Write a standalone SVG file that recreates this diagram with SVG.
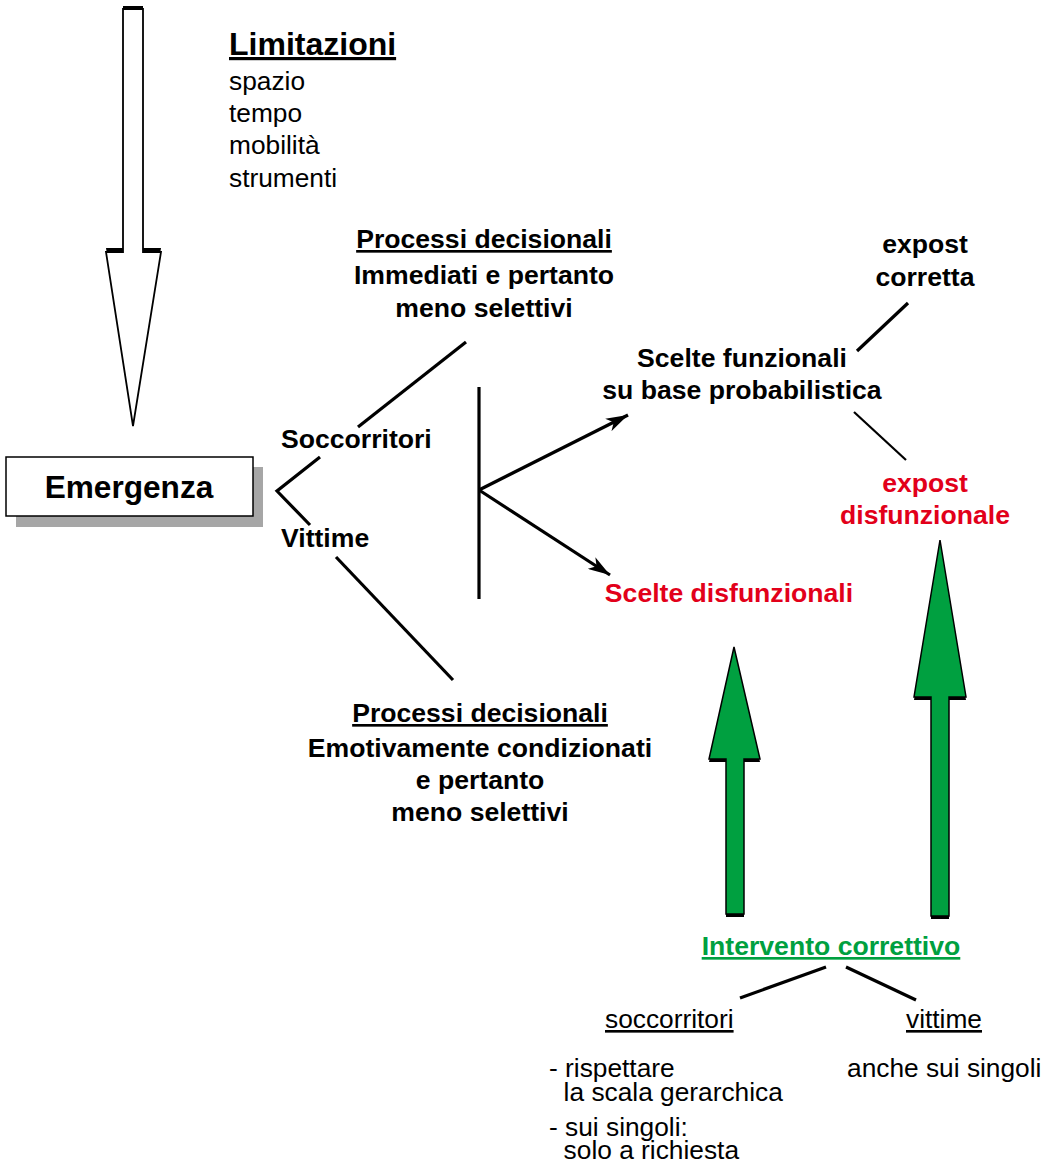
<svg xmlns="http://www.w3.org/2000/svg" width="1060" height="1164" viewBox="0 0 1060 1164">
<defs>
<style>
text{font-family:"Liberation Sans",Arial,sans-serif;font-size:26.3px;fill:#000}
.b{font-weight:bold;font-size:26.6px}
.c{text-anchor:middle}
.u{text-decoration:underline}
.red{fill:#e2001a}
.grn{fill:#00a040}
.ln{stroke:#000;stroke-width:3.2;fill:none;stroke-linecap:butt}
.thin{stroke:#000;stroke-width:2.2;fill:none}
.ga{fill:#00a040;stroke:#000;stroke-width:1.5;stroke-linejoin:miter}
.sh{fill:#000}
</style>
<marker id="ah" viewBox="0 0 22 14" refX="22" refY="7" markerWidth="22" markerHeight="14" markerUnits="userSpaceOnUse" orient="auto">
<path d="M0,0 L22,7 L0,14 L6,7 Z" fill="#000"/>
</marker>
</defs>
<rect width="1060" height="1164" fill="#fff"/>

<g id="arrow-limitazioni">
<polygon class="sh" points="123,6 143,6 143,248 161,248 133,424 106,248 123,248"/>
<polygon points="123,9 143,9 143,252 161,252 133,426 106,252 123,252" fill="#fff" stroke="#000" stroke-width="1.8"/>
</g>

<g id="limitazioni">
<text class="b u" x="229" y="55" style="font-size:32px">Limitazioni</text>
<text x="229" y="90">spazio</text>
<text x="229" y="122">tempo</text>
<text x="229" y="154">mobilità</text>
<text x="229" y="187">strumenti</text>
</g>

<g id="emergenza">
<rect x="16" y="467" width="247" height="60" fill="#a6a6a6"/>
<rect x="6" y="457" width="247" height="59" fill="#fff" stroke="#000" stroke-width="1.5"/>
<text class="b c" x="129" y="498" style="font-size:31.6px">Emergenza</text>
</g>

<g id="connectors">
<polyline class="ln" points="320,457 277,491 310,525"/>
<line class="ln" x1="358" y1="427" x2="466" y2="342"/>
<line class="ln" x1="336" y1="557" x2="453" y2="680"/>
<line class="ln" x1="479" y1="387" x2="479" y2="599"/>
<line class="ln" x1="479" y1="490" x2="628" y2="415" marker-end="url(#ah)"/>
<line class="ln" x1="479" y1="490" x2="610" y2="575" marker-end="url(#ah)"/>
<line class="ln" x1="908" y1="303" x2="857" y2="351"/>
<line class="thin" x1="854" y1="412" x2="906" y2="460"/>
<line class="ln" x1="826" y1="967" x2="740" y2="998"/>
<line class="ln" x1="846" y1="967" x2="916" y2="1000"/>
</g>

<g id="soccorritori">
<text class="b" x="281" y="448">Soccorritori</text>
</g>
<g id="vittime">
<text class="b" x="281" y="547">Vittime</text>
</g>

<g id="processi-soccorritori">
<text class="b c u" x="484" y="248">Processi decisionali</text>
<text class="b c" x="484" y="284">Immediati e pertanto</text>
<text class="b c" x="484" y="317">meno selettivi</text>
</g>

<g id="processi-vittime">
<text class="b c u" x="480" y="722">Processi decisionali</text>
<text class="b c" x="480" y="757">Emotivamente condizionati</text>
<text class="b c" x="480" y="789">e pertanto</text>
<text class="b c" x="480" y="821">meno selettivi</text>
</g>

<g id="scelte-funzionali">
<text class="b c" x="742" y="367">Scelte funzionali</text>
<text class="b c" x="742" y="399">su base probabilistica</text>
</g>

<g id="expost-corretta">
<text class="b c" x="925" y="253">expost</text>
<text class="b c" x="925" y="286">corretta</text>
</g>

<g id="expost-disfunzionale">
<text class="b c red" x="925" y="492">expost</text>
<text class="b c red" x="925" y="524">disfunzionale</text>
</g>

<g id="scelte-disfunzionali">
<text class="b c red" x="729" y="602">Scelte disfunzionali</text>
</g>

<g id="arrow-green-left">
<polygon class="sh" points="734,650 760,762 744,762 744,917 726,917 726,762 709,762"/>
<polygon class="ga" points="734,647 760,759 744,759 744,914 726,914 726,759 709,759"/>
</g>

<g id="arrow-green-right">
<polygon class="sh" points="940,543 966,700 949,700 949,919 931,919 931,700 914,700"/>
<polygon class="ga" points="940,540 966,697 949,697 949,916 931,916 931,697 914,697"/>
</g>

<g id="intervento">
<text class="b c u grn" x="831" y="955">Intervento correttivo</text>
</g>

<g id="soccorritori-intervento">
<text class="u" x="605" y="1028">soccorritori</text>
<text x="549" y="1077">- rispettare</text>
<text x="549" y="1101" xml:space="preserve">  la scala gerarchica</text>
<text x="549" y="1136">- sui singoli:</text>
<text x="549" y="1159" xml:space="preserve">  solo a richiesta</text>
</g>

<g id="vittime-intervento">
<text class="u" x="906" y="1028">vittime</text>
<text x="847" y="1077">anche sui singoli</text>
</g>
</svg>
